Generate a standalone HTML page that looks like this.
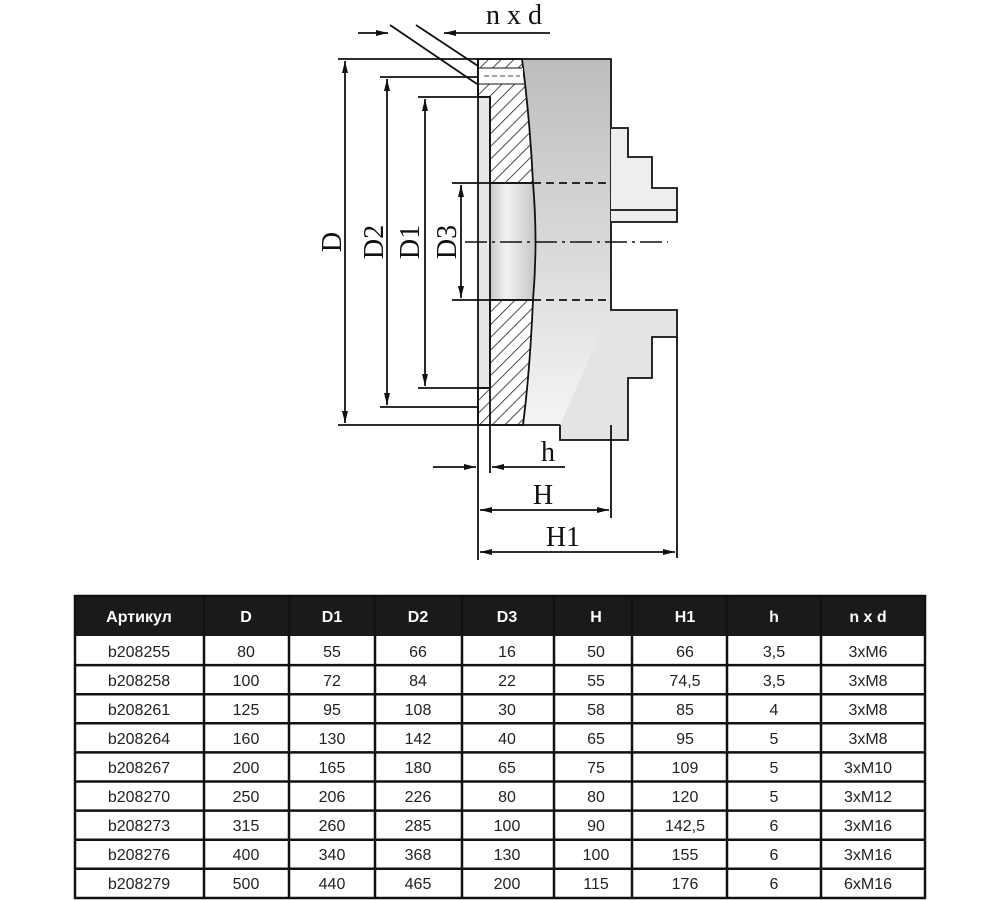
<!DOCTYPE html>
<html><head><meta charset="utf-8"><style>
html,body{margin:0;padding:0;background:#fff;}
svg{display:block}
</style></head><body>
<svg width="1000" height="900" viewBox="0 0 1000 900" xmlns="http://www.w3.org/2000/svg">
<defs>
<pattern id="hat" patternUnits="userSpaceOnUse" width="9" height="9" patternTransform="rotate(45)">
<rect width="9" height="9" fill="#fff"/><line x1="0" y1="0" x2="0" y2="9" stroke="#222" stroke-width="1.6"/>
</pattern>
<linearGradient id="g1" x1="0" y1="0" x2="0" y2="1"><stop offset="0" stop-color="#bdbdbd"/><stop offset="1" stop-color="#f4f4f4"/></linearGradient>
<linearGradient id="g2" x1="0" y1="0" x2="1" y2="0"><stop offset="0" stop-color="#aaa"/><stop offset="0.5" stop-color="#f2f2f2"/><stop offset="1" stop-color="#c8c8c8"/></linearGradient>
<marker id="ar" markerWidth="12" markerHeight="8" refX="12" refY="4" orient="auto" markerUnits="userSpaceOnUse"><path d="M0,1 L12,4 L0,7 Z" fill="#111"/></marker>
</defs>
<g stroke="#111" stroke-width="1.8" fill="none">
<!-- body gray -->
<rect x="522" y="59" width="89" height="366" fill="url(#g1)" stroke="none"/>
<rect x="478" y="183" width="56" height="117" fill="url(#g2)" stroke="none"/>
<rect x="478" y="97" width="12" height="291" fill="#e6e6e6" stroke="none"/>
<!-- hatched -->
<path d="M478,59 L522,59 Q530,120 533,183 L490,183 L490,97 L478,97 Z" fill="url(#hat)"/>
<path d="M490,300 L533,300 Q530,370 523,425 L478,425 L478,388 L490,388 Z" fill="url(#hat)"/>
<rect x="479" y="68" width="44" height="16" fill="#fff" stroke="none"/>
<line x1="479" y1="68" x2="522" y2="68" stroke-width="1"/><line x1="479" y1="84" x2="524" y2="84" stroke-width="1"/>
<line x1="484" y1="76" x2="520" y2="76" stroke-width="0.8" stroke-dasharray="5,3"/>
<path d="M533,183 Q538,242 533,300" />
<!-- outer box -->
<path d="M478,59 L611,59 L611,425 L478,425 Z"/>
<line x1="490" y1="97" x2="490" y2="473"/>
<line x1="478" y1="97" x2="490" y2="97"/><line x1="478" y1="388" x2="490" y2="388"/>
<!-- jaws -->
<path d="M611,128 L628,128 L628,157 L652,157 L652,188 L677,188 L677,222 L611,222" fill="#eee"/>
<line x1="611" y1="210" x2="677" y2="210"/>
<path d="M611,310 L677,310 L677,337 L652,337 L652,378 L628,378 L628,440 L560,440 L560,425" fill="#e4e4e4"/>
<line x1="677" y1="337" x2="677" y2="558"/>
<!-- D3 dashed -->
<line x1="452" y1="183" x2="533" y2="183"/><line x1="533" y1="183" x2="611" y2="183" stroke-dasharray="8,5"/>
<line x1="452" y1="300" x2="533" y2="300"/><line x1="533" y1="300" x2="611" y2="300" stroke-dasharray="8,5"/>
<line x1="465" y1="242" x2="668" y2="242" stroke-width="1.4" stroke-dasharray="22,5,3,5"/>
<!-- dim lines -->
<line x1="338" y1="59" x2="478" y2="59"/>
<line x1="380" y1="77" x2="478" y2="77"/>
<line x1="418" y1="97" x2="478" y2="97"/>
<line x1="338" y1="425" x2="478" y2="425"/>
<line x1="380" y1="407" x2="478" y2="407"/>
<line x1="418" y1="388" x2="478" y2="388"/>
<line x1="345" y1="242" x2="345" y2="61" marker-end="url(#ar)"/><line x1="345" y1="242" x2="345" y2="423" marker-end="url(#ar)"/>
<line x1="387" y1="242" x2="387" y2="79" marker-end="url(#ar)"/><line x1="387" y1="242" x2="387" y2="405" marker-end="url(#ar)"/>
<line x1="425" y1="242" x2="425" y2="99" marker-end="url(#ar)"/><line x1="425" y1="242" x2="425" y2="386" marker-end="url(#ar)"/>
<line x1="461" y1="242" x2="461" y2="185" marker-end="url(#ar)"/><line x1="461" y1="242" x2="461" y2="298" marker-end="url(#ar)"/>
<!-- nxd -->
<line x1="358" y1="33" x2="388" y2="33" marker-end="url(#ar)"/>
<line x1="550" y1="33" x2="444" y2="33" marker-end="url(#ar)"/>
<line x1="390" y1="25" x2="477" y2="84"/><line x1="416" y1="25" x2="478" y2="66"/>
<!-- h H H1 -->
<line x1="478" y1="425" x2="478" y2="560"/>
<line x1="611" y1="425" x2="611" y2="518"/>
<line x1="433" y1="467" x2="476" y2="467" marker-end="url(#ar)"/>
<line x1="565" y1="467" x2="492" y2="467" marker-end="url(#ar)"/>
<line x1="545" y1="510" x2="480" y2="510" marker-end="url(#ar)"/><line x1="545" y1="510" x2="609" y2="510" marker-end="url(#ar)"/>
<line x1="577" y1="552" x2="480" y2="552" marker-end="url(#ar)"/><line x1="577" y1="552" x2="675" y2="552" marker-end="url(#ar)"/>
</g>
<g font-family="Liberation Serif, serif" font-size="28" fill="#111" text-anchor="middle">
<text x="514" y="24">n x d</text>
<text x="548" y="461">h</text>
<text x="543" y="504">H</text>
<text x="563" y="546">H1</text>
<text transform="translate(341,242) rotate(-90)">D</text>
<text transform="translate(383,242) rotate(-90)">D2</text>
<text transform="translate(419,242) rotate(-90)">D1</text>
<text transform="translate(456,242) rotate(-90)">D3</text>
</g>
<!-- table -->
<g font-family="Liberation Sans, Arial, sans-serif" font-size="16" text-anchor="middle">
<rect x="75" y="596" width="850" height="40" fill="#1a1a1a"/>
<g fill="#fff" font-weight="bold">
<text x="139" y="622">Артикул</text><text x="246" y="622">D</text><text x="332" y="622">D1</text><text x="418" y="622">D2</text><text x="507" y="622">D3</text><text x="596" y="622">H</text><text x="685" y="622">H1</text><text x="774" y="622">h</text><text x="868" y="622">n x d</text>
</g>
<g stroke="#111" stroke-width="2.5" fill="none">
<rect x="75" y="596" width="850" height="302"/>
<line x1="75" y1="665.1" x2="925" y2="665.1"/><line x1="75" y1="694.2" x2="925" y2="694.2"/><line x1="75" y1="723.3" x2="925" y2="723.3"/><line x1="75" y1="752.4" x2="925" y2="752.4"/><line x1="75" y1="781.5" x2="925" y2="781.5"/><line x1="75" y1="810.6" x2="925" y2="810.6"/><line x1="75" y1="839.7" x2="925" y2="839.7"/><line x1="75" y1="868.8" x2="925" y2="868.8"/>
<line x1="204" y1="596" x2="204" y2="898"/><line x1="289" y1="596" x2="289" y2="898"/><line x1="375" y1="596" x2="375" y2="898"/><line x1="462" y1="596" x2="462" y2="898"/><line x1="554" y1="596" x2="554" y2="898"/><line x1="632" y1="596" x2="632" y2="898"/><line x1="727" y1="596" x2="727" y2="898"/><line x1="821" y1="596" x2="821" y2="898"/>
</g>
<g fill="#222">
<text x="139" y="657">b208255</text><text x="246" y="657">80</text><text x="332" y="657">55</text><text x="418" y="657">66</text><text x="507" y="657">16</text><text x="596" y="657">50</text><text x="685" y="657">66</text><text x="774" y="657">3,5</text><text x="868" y="657">3xM6</text>
<text x="139" y="686">b208258</text><text x="246" y="686">100</text><text x="332" y="686">72</text><text x="418" y="686">84</text><text x="507" y="686">22</text><text x="596" y="686">55</text><text x="685" y="686">74,5</text><text x="774" y="686">3,5</text><text x="868" y="686">3xM8</text>
<text x="139" y="715">b208261</text><text x="246" y="715">125</text><text x="332" y="715">95</text><text x="418" y="715">108</text><text x="507" y="715">30</text><text x="596" y="715">58</text><text x="685" y="715">85</text><text x="774" y="715">4</text><text x="868" y="715">3xM8</text>
<text x="139" y="744">b208264</text><text x="246" y="744">160</text><text x="332" y="744">130</text><text x="418" y="744">142</text><text x="507" y="744">40</text><text x="596" y="744">65</text><text x="685" y="744">95</text><text x="774" y="744">5</text><text x="868" y="744">3xM8</text>
<text x="139" y="773">b208267</text><text x="246" y="773">200</text><text x="332" y="773">165</text><text x="418" y="773">180</text><text x="507" y="773">65</text><text x="596" y="773">75</text><text x="685" y="773">109</text><text x="774" y="773">5</text><text x="868" y="773">3xM10</text>
<text x="139" y="802">b208270</text><text x="246" y="802">250</text><text x="332" y="802">206</text><text x="418" y="802">226</text><text x="507" y="802">80</text><text x="596" y="802">80</text><text x="685" y="802">120</text><text x="774" y="802">5</text><text x="868" y="802">3xM12</text>
<text x="139" y="831">b208273</text><text x="246" y="831">315</text><text x="332" y="831">260</text><text x="418" y="831">285</text><text x="507" y="831">100</text><text x="596" y="831">90</text><text x="685" y="831">142,5</text><text x="774" y="831">6</text><text x="868" y="831">3xM16</text>
<text x="139" y="860">b208276</text><text x="246" y="860">400</text><text x="332" y="860">340</text><text x="418" y="860">368</text><text x="507" y="860">130</text><text x="596" y="860">100</text><text x="685" y="860">155</text><text x="774" y="860">6</text><text x="868" y="860">3xM16</text>
<text x="139" y="889">b208279</text><text x="246" y="889">500</text><text x="332" y="889">440</text><text x="418" y="889">465</text><text x="507" y="889">200</text><text x="596" y="889">115</text><text x="685" y="889">176</text><text x="774" y="889">6</text><text x="868" y="889">6xM16</text>
</g>
</g>
</svg>
</body></html>
